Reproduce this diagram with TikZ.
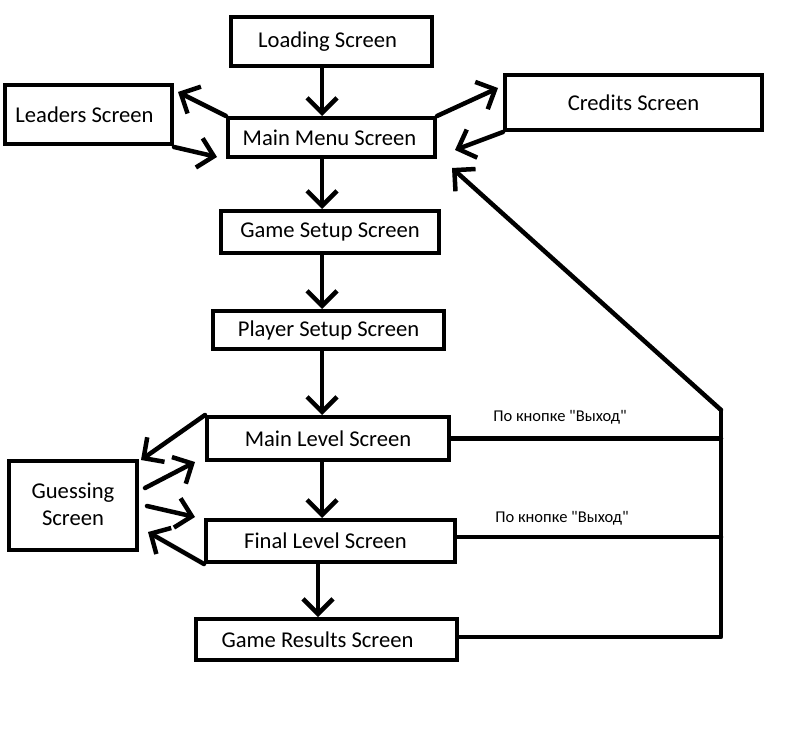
\documentclass[tikz,border=0pt]{standalone}
\usepackage{fontspec}
\setmainfont{Carlito}
\newfontfamily\lblfont{Carlito}[Ligatures=TeXOff]
\usetikzlibrary{arrows.meta,calc}
\begin{document}
\begin{tikzpicture}[x=1pt,y=-1pt,
  box/.style={draw,line width=4pt,inner sep=0pt,align=center,
    font=\fontsize{22.6pt}{27pt}\selectfont},
  arr/.style={line width=4.5pt,line cap=round,line join=round,
    -{Straight Barb[length=15pt,width=30pt,line width=4.5pt]}},
  plain/.style={line width=4.5pt,line cap=round,line join=round},
  lbl/.style={font=\lblfont\fontsize{16.5pt}{19pt}\selectfont,inner sep=0pt}]
\fill[white] (0,0) rectangle (795,746);
\useasboundingbox (0,0) rectangle (795,746);
% boxes
\node[box,minimum width=201pt,minimum height=49pt] (ld) at (331.5,41.5) {\hspace*{-8pt}Loading Screen};
\node[box,minimum width=167pt,minimum height=59pt] (lead) at (88.5,114.5) {\hspace*{-8pt}Leaders Screen};
\node[box,minimum width=207pt,minimum height=39pt] (mm) at (331.5,137.5) {\hspace*{-4pt}Main Menu Screen};
\node[box,minimum width=257pt,minimum height=55pt] (cred) at (633.5,102.5) {Credits Screen};
\node[box,minimum width=218pt,minimum height=42pt] (gs) at (330,232) {Game Setup Screen};
\node[box,minimum width=231pt,minimum height=38pt] (ps) at (328.5,330) {Player Setup Screen};
\node[box,minimum width=242pt,minimum height=43pt] (ml) at (328,438.5) {Main Level Screen};
\node[box,minimum width=128pt,minimum height=89pt] (gu) at (73,505.5) {\raisebox{2pt}{Guessing}\\\raisebox{2pt}{Screen}};
\node[box,minimum width=249pt,minimum height=42pt] (fl) at (330.5,541) {\hspace*{-10pt}Final Level Screen};
\node[box,minimum width=261pt,minimum height=41pt] (res) at (326.5,639.5) {\hspace*{-18pt}Game Results Screen};
% labels
\node[lbl] (l1) at (560,417) {По кнопке "Выход"};
\node[lbl] (l2) at (562,518) {По кнопке "Выход"};
% helper coordinates
\coordinate (col) at (322,0);
\coordinate (col2) at (318,0);
\coordinate (rt) at (721,410);
\coordinate (tipLeadA) at (178,92);
\coordinate (tipMMA) at (217,157);
\coordinate (tipCred) at (498,88);
\coordinate (tipMMB) at (455,150);
\coordinate (tipMMC) at (452,168);
\coordinate (guA) at (145,488);
\coordinate (tipMLA) at (195,462);
\coordinate (guB) at (147,506);
\coordinate (tipFLA) at (195,517);
\coordinate (tipGuB) at (148,532);
% main vertical flow
\draw[arr] (ld.south -| col) -- (mm.north -| col);
\draw[arr] (mm.south -| col) -- (gs.north -| col);
\draw[arr] (gs.south -| col) -- (ps.north -| col);
\draw[arr] (ps.south -| col) -- (ml.north -| col);
\draw[arr] (ml.south -| col) -- (fl.north -| col);
\draw[arr] (fl.south -| col2) -- (res.north -| col2);
% leaders / credits
\draw[arr] (mm.north west) -- (tipLeadA);
\draw[arr] ([yshift=-1pt]lead.south east) -- (tipMMA);
\draw[arr] (mm.north east) -- (tipCred);
\draw[arr] (cred.south west) -- (tipMMB);
% guessing
\draw[arr] (ml.north west) -- ([shift={(2pt,-1pt)}]gu.north east);
\draw[arr] (guA) -- (tipMLA);
\draw[arr] (guB) -- (tipFLA);
\draw[arr] (fl.south west) -- (tipGuB);
% exit lines
\draw[plain] (ml.east) -- (ml.east -| rt);
\draw[plain] ([yshift=4pt]fl.east) -- ([yshift=4pt]fl.east -| rt);
\draw[plain] ([yshift=2.5pt]res.east) -- ([yshift=2.5pt]res.east -| rt) -- (rt);
\draw[arr] (rt) -- (tipMMC);
\end{tikzpicture}
\end{document}
